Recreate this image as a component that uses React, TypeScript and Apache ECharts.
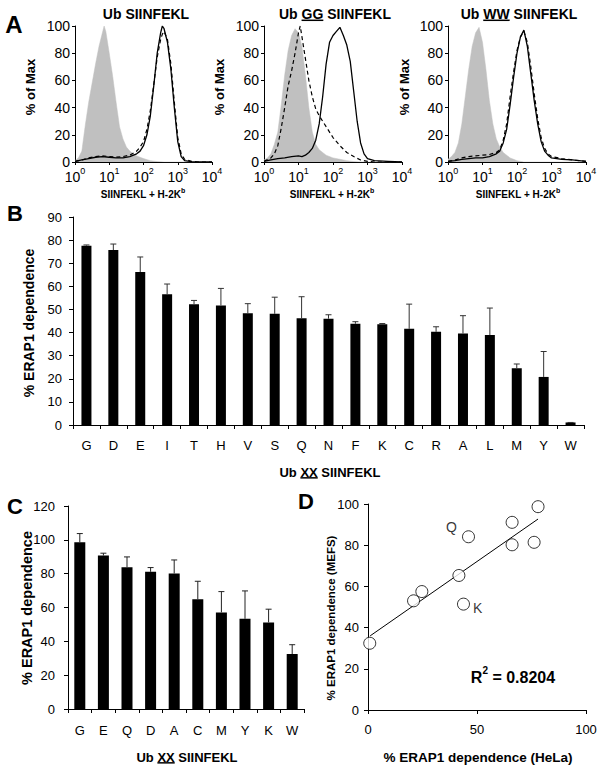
import React, { useEffect, useRef } from "react";
import * as echarts from "echarts";

const FONT = "'Liberation Sans', Arial, Helvetica, sans-serif";

// ---------- Panel A: flow cytometry histograms, [log10 intensity, % of max]
const aTitles: [string, string, string][] = [
  ["Ub ", "", "SIINFEKL"],
  ["Ub ", "GG", " SIINFEKL"],
  ["Ub ", "WW", " SIINFEKL"],
];
const aDecades = [0, 1, 2, 3, 4];

const aGrey1: [number, number][] = [
  [0, 1], [0.1, 3], [0.2, 8], [0.3, 27], [0.4, 44], [0.5, 58], [0.6, 72], [0.7, 85], [0.8, 95], [0.85, 100],
  [0.9, 96], [1.0, 80], [1.1, 63], [1.2, 44], [1.3, 26], [1.4, 17], [1.5, 11], [1.6, 8], [1.7, 6], [1.8, 4.5],
  [1.9, 3.5], [2.0, 2.5], [2.2, 1], [2.4, 0.3], [2.6, 0], [4, 0],
];
const aSolid1: [number, number][] = [
  [0, 0.5], [0.2, 1.5], [0.4, 2.5], [0.6, 3.5], [0.8, 4], [1.0, 3.5], [1.2, 3], [1.4, 3], [1.6, 4], [1.8, 6],
  [1.9, 8], [2.0, 12], [2.1, 20], [2.2, 34], [2.3, 56], [2.4, 80], [2.5, 95], [2.55, 100], [2.6, 98], [2.7, 88],
  [2.8, 68], [2.9, 40], [3.0, 15], [3.1, 4], [3.2, 1], [3.4, 0.3], [3.6, 0], [4, 0],
];
const aDashed1: [number, number][] = [
  [0, 0.5], [0.2, 1.5], [0.4, 3], [0.6, 4], [0.8, 4.5], [1.0, 4], [1.2, 3.5], [1.4, 4], [1.6, 5], [1.8, 8],
  [1.9, 11], [2.0, 15], [2.1, 24], [2.2, 38], [2.3, 57], [2.4, 77], [2.5, 90], [2.55, 94], [2.6, 96], [2.7, 90],
  [2.8, 72], [2.9, 44], [3.0, 18], [3.1, 6], [3.2, 2], [3.4, 0.5], [3.6, 0], [4, 0],
];

const aGrey2: [number, number][] = [
  [0, 1.5], [0.1, 3], [0.2, 6], [0.3, 13], [0.4, 22], [0.5, 42], [0.6, 64], [0.7, 82], [0.8, 93], [0.9, 98],
  [1.0, 95], [1.1, 85], [1.2, 64], [1.3, 40], [1.4, 22], [1.5, 13], [1.6, 9], [1.7, 7], [1.8, 5], [2.0, 3],
  [2.2, 2], [2.4, 1], [2.6, 0.3], [2.8, 0], [4, 0],
];
const aSolid2: [number, number][] = [
  [0, 0.5], [0.2, 1.5], [0.4, 2.5], [0.6, 3], [0.8, 4], [1.0, 4.5], [1.1, 4], [1.2, 5], [1.3, 7], [1.4, 10],
  [1.5, 16], [1.6, 28], [1.7, 48], [1.8, 72], [1.9, 88], [2.0, 93], [2.1, 96], [2.2, 99], [2.3, 93], [2.4, 86],
  [2.5, 74], [2.6, 52], [2.7, 30], [2.8, 14], [2.9, 6], [3.0, 2.5], [3.2, 1], [3.6, 0.5], [4, 0],
];
const aDashed2: [number, number][] = [
  [0, 0.5], [0.2, 3], [0.3, 6], [0.4, 12], [0.5, 25], [0.6, 40], [0.7, 56], [0.8, 67], [0.9, 80], [1.0, 95],
  [1.05, 100], [1.1, 92], [1.2, 76], [1.3, 60], [1.4, 48], [1.5, 39], [1.6, 34], [1.7, 30], [1.8, 26], [1.9, 22],
  [2.0, 18], [2.2, 12], [2.4, 7], [2.6, 4], [2.8, 1.5], [3.0, 0.5], [3.2, 0], [4, 0],
];

const aGrey3: [number, number][] = [
  [0, 2], [0.1, 4], [0.2, 7], [0.3, 14], [0.4, 28], [0.5, 48], [0.6, 68], [0.7, 85], [0.8, 95], [0.9, 99],
  [1.0, 88], [1.1, 68], [1.2, 45], [1.3, 28], [1.4, 17], [1.5, 11], [1.6, 7], [1.7, 5], [1.8, 3], [1.9, 2],
  [2.0, 1], [2.2, 0], [4, 0],
];
const aSolid3: [number, number][] = [
  [0, 0.5], [0.2, 1], [0.4, 2], [0.6, 2.5], [0.8, 3], [1.0, 3], [1.2, 4], [1.4, 6], [1.5, 8], [1.6, 14],
  [1.7, 24], [1.8, 42], [1.9, 62], [2.0, 80], [2.1, 92], [2.2, 97], [2.3, 85], [2.4, 65], [2.5, 45], [2.6, 28],
  [2.7, 15], [2.8, 8], [2.9, 5], [3.0, 3], [3.3, 2], [3.6, 1.5], [4, 0.5],
];
const aDashed3: [number, number][] = [
  [0, 0.5], [0.2, 1.5], [0.4, 3], [0.6, 4], [0.8, 4.5], [1.0, 5], [1.2, 5.5], [1.4, 7], [1.5, 9], [1.6, 16],
  [1.7, 28], [1.8, 48], [1.9, 66], [2.0, 82], [2.1, 92], [2.2, 96], [2.3, 88], [2.4, 70], [2.5, 50], [2.6, 32],
  [2.7, 18], [2.8, 10], [2.9, 6], [3.0, 4], [3.3, 2.5], [3.6, 1.5], [4, 0.5],
];

// ---------- Panel B: HeLa
const bCategories = ["G", "D", "E", "I", "T", "H", "V", "S", "Q", "N", "F", "K", "C", "R", "A", "L", "M", "Y", "W"];
const bValues = [77.6, 75.7, 66.2, 56.6, 52.3, 51.7, 48.4, 48.1, 46.2, 46.0, 43.8, 43.6, 41.6, 40.3, 39.6, 38.9, 24.6, 20.8, 1.1];
const bErrTop = [77.9, 78.3, 72.7, 61.0, 53.9, 59.1, 52.5, 55.3, 55.5, 47.7, 44.7, 43.9, 52.3, 42.5, 47.3, 50.6, 26.4, 31.8, 1.1];

// ---------- Panel C: MEFs
const cCategories = ["G", "E", "Q", "D", "A", "C", "M", "Y", "K", "W"];
const cValues = [98.6, 90.7, 83.8, 81.1, 80.1, 64.9, 57.1, 53.3, 51.2, 32.5];
const cErrTop = [103.7, 92.1, 89.9, 83.6, 88.1, 75.5, 69.4, 69.8, 59.0, 38.0];

// ---------- Panel D: correlation HeLa vs MEFs
const dHela = [0.8, 20.9, 24.7, 41.7, 43.8, 46.1, 66.1, 66.1, 76.2, 78.0];
const dMefs = [32.4, 53.0, 57.5, 65.3, 51.4, 84.1, 91.1, 80.2, 81.4, 98.7];
const dPointLabels = ["", "", "", "", "K", "Q", "", "", "", ""];
const dTrend: [number, number][] = [[1.0, 36.0], [78.0, 92.7]];
const dRSquared = "0.8204";

function measure(text: string, font: string): number {
  const ctx = document.createElement("canvas").getContext("2d");
  if (!ctx) return text.length * 8;
  ctx.font = font;
  return ctx.measureText(text).width;
}

function txt(x: number, y: number, text: string, size: number, bold: boolean, extra: any = {}) {
  return {
    type: "text",
    x,
    y,
    silent: true,
    ...extra,
    style: {
      text,
      fontSize: size,
      fontWeight: bold ? "bold" : "normal",
      fontFamily: FONT,
      fill: "#000",
      align: "center",
      verticalAlign: "middle",
      ...(extra.style || {}),
    },
  };
}

function underlined(cx: number, cy: number, parts: [string, string, string], size: number) {
  const font = `bold ${size}px 'Liberation Sans', Arial, sans-serif`;
  const full = parts.join("");
  const W = measure(full, font);
  const left = cx - W / 2;
  const els: any[] = [txt(cx, cy, full, size, true)];
  if (parts[1]) {
    const x1 = left + measure(parts[0], font);
    const x2 = x1 + measure(parts[1], font);
    const y = cy + size * 0.45;
    els.push({ type: "line", silent: true, shape: { x1, y1: y, x2, y2: y }, style: { stroke: "#000", lineWidth: 1.5 } });
  }
  return els;
}

const axisLineBlack = { show: true, lineStyle: { color: "#000", width: 1 } };

function aXAxis(i: number) {
  return {
    type: "value",
    gridIndex: i,
    min: 0,
    max: 4,
    interval: 1,
    axisLine: { ...axisLineBlack, onZero: false },
    axisTick: { show: true, length: 3, lineStyle: { color: "#000" } },
    splitLine: { show: false },
    axisLabel: {
      margin: 4,
      formatter: (v: number) => `{b|10}{s|${aDecades[Math.round(v)]}}`,
      rich: {
        b: { fontSize: 14, fontFamily: FONT, color: "#000", lineHeight: 18, verticalAlign: "bottom" },
        s: { fontSize: 9, fontFamily: FONT, color: "#000", lineHeight: 18, verticalAlign: "top" },
      },
    },
  };
}
function aYAxis(i: number) {
  return {
    type: "value",
    gridIndex: i,
    min: 0,
    max: 100,
    interval: 20,
    axisLine: { ...axisLineBlack, onZero: false },
    axisTick: { show: true, length: 3, lineStyle: { color: "#000" } },
    splitLine: { show: false },
    axisLabel: { fontSize: 14, fontFamily: FONT, color: "#000", margin: 5 },
  };
}

function histSeries(i: number, grey: [number, number][], solid: [number, number][], dashed: [number, number][]) {
  return [
    {
      type: "line", xAxisIndex: i, yAxisIndex: i, data: grey, symbol: "none", silent: true,
      lineStyle: { color: "#c0c0c0", width: 0.5 }, areaStyle: { color: "#c0c0c0", opacity: 1 }, z: 1,
    },
    {
      type: "line", xAxisIndex: i, yAxisIndex: i, data: dashed, symbol: "none", silent: true,
      lineStyle: { color: "#000", width: 1.2, type: [4, 3] }, z: 2,
    },
    {
      type: "line", xAxisIndex: i, yAxisIndex: i, data: solid, symbol: "none", silent: true,
      lineStyle: { color: "#000", width: 1.3 }, z: 3,
    },
  ];
}

function errSeries(i: number, values: number[], errs: number[], color: string) {
  return {
    type: "custom",
    xAxisIndex: i,
    yAxisIndex: i,
    silent: true,
    z: 5,
    data: values.map((v, k) => [k, v, errs[k]]),
    renderItem: (_p: any, api: any) => {
      const k = api.value(0);
      const top = api.coord([k, api.value(1)]);
      const err = api.coord([k, api.value(2)]);
      const half = 3;
      return {
        type: "group",
        children: [
          { type: "line", shape: { x1: top[0], y1: top[1], x2: err[0], y2: err[1] }, style: { stroke: color, lineWidth: 1 } },
          { type: "line", shape: { x1: err[0] - half, y1: err[1], x2: err[0] + half, y2: err[1] }, style: { stroke: color, lineWidth: 1 } },
        ],
      };
    },
  };
}

const pointLabelStyle: Record<string, any> = {
  Q: { position: "left", distance: 5, offset: [0, -10] },
  K: { position: "right", distance: 3, offset: [0, 4] },
};

export default function App() {
  const ref = useRef<HTMLDivElement>(null);

  useEffect(() => {
    if (!ref.current) return;
    const chart = echarts.init(ref.current, undefined, { renderer: "svg" });

    const grids = [
      { left: 75, top: 26, width: 137, height: 136 },
      { left: 264, top: 26, width: 138, height: 136 },
      { left: 448, top: 26, width: 138, height: 136 },
      { left: 73, top: 217, width: 511, height: 208 },
      { left: 68, top: 506, width: 236, height: 203 },
      { left: 368, top: 504, width: 218, height: 206 },
    ].map((g) => ({ ...g, containLabel: false, outerBoundsMode: "none" }));

    const catX = (i: number, data: string[], margin: number, size: number) => ({
      type: "category",
      gridIndex: i,
      data,
      axisLine: { ...axisLineBlack },
      axisTick: { show: true, alignWithLabel: false, length: 4, lineStyle: { color: "#000" } },
      axisLabel: { fontSize: size, fontFamily: FONT, color: "#000", margin, interval: 0 },
      splitLine: { show: false },
    });
    const valY = (i: number, max: number, interval: number, margin: number, size: number) => ({
      type: "value",
      gridIndex: i,
      min: 0,
      max,
      interval,
      axisLine: { ...axisLineBlack, onZero: false },
      axisTick: { show: true, length: 4, lineStyle: { color: "#000" } },
      axisLabel: { fontSize: size, fontFamily: FONT, color: "#000", margin },
      splitLine: { show: false },
    });

    const xAxis = [
      aXAxis(0), aXAxis(1), aXAxis(2),
      catX(3, bCategories, 14, 13),
      catX(4, cCategories, 15, 13),
      {
        type: "value", gridIndex: 5, min: 0, max: 100, interval: 50,
        axisLine: { ...axisLineBlack, onZero: false },
        axisTick: { show: true, length: 4, lineStyle: { color: "#000" } },
        axisLabel: { fontSize: 13, fontFamily: FONT, color: "#000", margin: 13 },
        splitLine: { show: false },
      },
    ];
    const yAxis = [
      aYAxis(0), aYAxis(1), aYAxis(2),
      valY(3, 90, 10, 11, 13),
      valY(4, 120, 20, 13, 13),
      valY(5, 100, 20, 9, 13),
    ];

    const series: any[] = [
      ...histSeries(0, aGrey1, aSolid1, aDashed1),
      ...histSeries(1, aGrey2, aSolid2, aDashed2),
      ...histSeries(2, aGrey3, aSolid3, aDashed3),
      {
        type: "bar", xAxisIndex: 3, yAxisIndex: 3, data: bValues, barWidth: 10, silent: true,
        itemStyle: { color: "#000" },
      },
      errSeries(3, bValues, bErrTop, "#333"),
      {
        type: "bar", xAxisIndex: 4, yAxisIndex: 4, data: cValues, barWidth: 11, silent: true,
        itemStyle: { color: "#000" },
      },
      errSeries(4, cValues, cErrTop, "#222"),
      {
        type: "line", xAxisIndex: 5, yAxisIndex: 5, data: dTrend, symbol: "none", silent: true,
        lineStyle: { color: "#000", width: 1 }, z: 1,
      },
      {
        type: "scatter", xAxisIndex: 5, yAxisIndex: 5, silent: true, z: 3,
        symbol: "circle", symbolSize: 12,
        itemStyle: { color: "#fff", borderColor: "#000", borderWidth: 1 },
        data: dHela.map((x, k) => {
          const lab = dPointLabels[k];
          const item: any = { value: [x, dMefs[k]] };
          if (lab) {
            item.label = {
              show: true, formatter: lab, fontSize: 14, fontFamily: FONT, color: "#000",
              ...pointLabelStyle[lab],
            };
          }
          return item;
        }),
      },
    ];

    const gfx: any[] = [];
    // panel letters
    gfx.push(txt(14, 24, "A", 24, true));
    gfx.push(txt(15, 213, "B", 22, true));
    gfx.push(txt(15, 506, "C", 22, true));
    gfx.push(txt(306, 501, "D", 22, true));
    // panel A titles
    const aCenters = [146, 335, 519];
    aTitles.forEach((t, k) => gfx.push(...underlined(aCenters[k], 14, t, 14)));
    // panel A axis titles
    const aYTitleX = [30, 219, 404];
    aYTitleX.forEach((x) => gfx.push(txt(x, 87, "% of Max", 13, true, { rotation: Math.PI / 2 })));
    const aXTitleX = [143, 332, 518];
    aXTitleX.forEach((x) =>
      gfx.push({
        type: "text", x, y: 193, silent: true,
        style: {
          text: "{n|SIINFEKL + H-2K}{s|b}",
          align: "center", verticalAlign: "middle",
          rich: {
            n: { fontSize: 10, fontWeight: "bold", fontFamily: FONT, fill: "#000", color: "#000", lineHeight: 13, verticalAlign: "bottom" },
            s: { fontSize: 7, fontWeight: "bold", fontFamily: FONT, fill: "#000", color: "#000", lineHeight: 13, verticalAlign: "top" },
          },
        },
      })
    );
    // panel B titles
    gfx.push(txt(29, 323, "% ERAP1 dependence", 14, true, { rotation: Math.PI / 2 }));
    gfx.push(...underlined(330, 472, ["Ub ", "XX", " SIINFEKL"], 13));
    // panel C titles
    gfx.push(txt(27, 608, "% ERAP1 dependence", 14.5, true, { rotation: Math.PI / 2 }));
    gfx.push(...underlined(187, 757, ["Ub ", "XX", " SIINFEKL"], 13));
    // panel D titles
    gfx.push(txt(331, 618, "% ERAP1 dependence (MEFS)", 11.5, true, { rotation: Math.PI / 2 }));
    gfx.push(txt(478, 757, "% ERAP1 dependence (HeLa)", 13.5, true));
    gfx.push({
      type: "text", x: 513, y: 675, silent: true,
      style: {
        text: `{r|R}{s|2}{r| = ${dRSquared}}`,
        align: "center", verticalAlign: "middle",
        rich: {
          r: { fontSize: 16, fontWeight: "bold", fontFamily: FONT, color: "#000", lineHeight: 20, verticalAlign: "bottom" },
          s: { fontSize: 10, fontWeight: "bold", fontFamily: FONT, color: "#000", lineHeight: 20, verticalAlign: "top" },
        },
      },
    });

    chart.setOption({
      animation: false,
      backgroundColor: "#fff",
      grid: grids,
      xAxis,
      yAxis,
      series,
      graphic: { elements: gfx },
    });

    return () => chart.dispose();
  }, []);

  return (
    <div
      ref={ref}
      style={{ position: "absolute", left: 0, top: 0, width: 604, height: 769, background: "#fff" }}
    />
  );
}
